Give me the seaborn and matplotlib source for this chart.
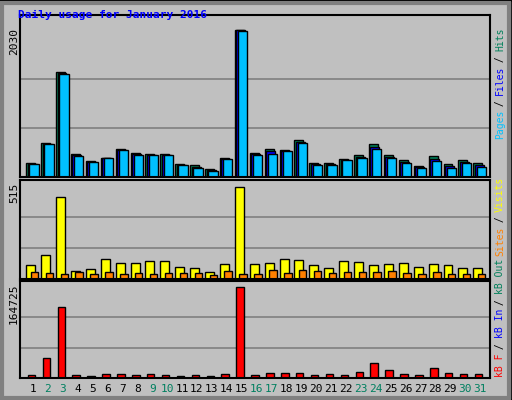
import numpy as np
import pandas as pd
import seaborn as sns
import matplotlib
matplotlib.use("Agg")
import matplotlib.pyplot as plt
from matplotlib.patches import Rectangle

days = list(range(1, 32))
hits = [193,465,1446,313,216,262,387,331,317,317,175,161,110,262,2030,327,387,368,511,193,193,249,304,456,299,235,152,290,180,235,193]
files = [185,458,1432,300,209,262,378,315,308,308,168,143,97,253,2025,313,355,361,488,177,177,240,283,420,280,212,138,255,152,212,165]
pages = [175,450,1418,286,202,262,368,299,299,299,161,124,83,244,2020,299,322,354,465,161,161,230,262,387,262,189,124,221,124,189,138]
visits = [80,136,459,46,58,113,91,91,102,102,69,63,41,86,515,86,91,113,108,80,63,102,97,80,86,91,69,86,80,63,63]
sites = [41,35,30,41,30,41,30,35,30,35,35,35,24,46,30,30,52,35,52,46,35,41,41,41,46,35,30,41,30,30,30]
kbf = [4800,35500,128650,6000,4200,7800,7800,6000,7800,6000,4200,6000,4200,7800,164725,6000,9600,9600,9600,6000,7800,6000,11400,27650,15000,7800,6000,18600,9600,7800,7800]
weekend = {2,3,9,10,16,17,23,24,30,31}

W, H = 512, 400
fig = plt.figure(figsize=(W/100, H/100), dpi=100, facecolor="#C0C0C0")
BG = "#C0C0C0"
mono = "DejaVu Sans Mono"

def ax_px(x0, y0, x1, y1):
    return fig.add_axes([x0/W, 1-y1/H, (x1-x0)/W, (y1-y0)/H])

XL = (0.13, 31.67)
d = np.array(days, dtype=float)

def bars(ax, off, w, vals, color):
    sns.barplot(x=d+off, y=vals, native_scale=True, width=w, color=color,
                edgecolor="black", linewidth=1, saturation=1, ax=ax)

def style(ax, vmax, top):
    ax.set_facecolor(BG)
    ax.set_xlim(*XL)
    ax.set_ylim(0, top)
    for yv in (vmax/3, 2*vmax/3):
        ax.axhline(yv, color="#808080", lw=1.2, zorder=0)
    ax.set_xticks([]); ax.set_yticks([])
    ax.set_xlabel(""); ax.set_ylabel("")
    for s in ax.spines.values():
        s.set_color("black"); s.set_linewidth(1.5)

ax1 = ax_px(20, 15, 490, 177)
bars(ax1, -0.15, 0.6, hits, "#00805A")
bars(ax1, -0.05, 0.6, files, "#0000FF")
bars(ax1, 0.075, 0.62, pages, "#00C0FF")
style(ax1, 2030, 2030 * 162 / 147)

ax2 = ax_px(20, 180, 490, 279)
bars(ax2, -0.15, 0.6, visits, "#FFFF00")
bars(ax2, 0.1, 0.5, sites, "#FF8000")
style(ax2, 515, 515 * 99 / 92.3)

ax3 = ax_px(20, 281, 490, 378)
bars(ax3, -0.1, 0.5, kbf, "#FF0000")
style(ax3, 164725, 164725 * 97 / 91.3)

for day in days:
    x = 20 + (day - XL[0]) / (XL[1] - XL[0]) * 470
    fig.text(x/W, 1-389/H, str(day), ha="center", va="center", fontsize=8,
             family=mono, color="#008060" if day in weekend else "black")

fig.text(18/W, 1-15/H, "Daily usage for January 2016", color="#0000FF",
         fontsize=8, family=mono, weight="bold", ha="left", va="center")
for lab, ytop in (("2030", 28), ("515", 183), ("164725", 283)):
    fig.text(14/W, 1-ytop/H, lab, rotation=90, ha="center", va="top",
             fontsize=8, family=mono)

def vstack(pieces, ybottom, x=500, pitch=5.5):
    y = ybottom
    for txt, col in pieces:
        fig.text(x/W, 1-y/H, txt, rotation=90, ha="center", va="bottom",
                 fontsize=7, family=mono, color=col)
        y -= len(txt) * pitch

vstack([("Pages", "#00C0FF"), (" / ", "black"), ("Files", "#0000FF"),
        (" / ", "black"), ("Hits", "#00805A")], 139)
vstack([("kB F", "#FF0000"), (" / ", "black"), ("kB In", "#0000FF"),
        (" / ", "black"), ("kB Out", "#00805A"), (" ", "black"),
        ("Sites", "#FF8000"), (" / ", "black"), ("Visits", "#FFFF00")], 377)

fig.patches.append(Rectangle((0, 0), 1, 1, transform=fig.transFigure,
                             fill=False, edgecolor="black", lw=2))
fig.patches.append(Rectangle((2/W, 2/H), 1-5/W, 1-5/H, transform=fig.transFigure,
                             fill=False, edgecolor="#808080", lw=3))

fig.savefig("out.png", dpi=100, facecolor=BG)
